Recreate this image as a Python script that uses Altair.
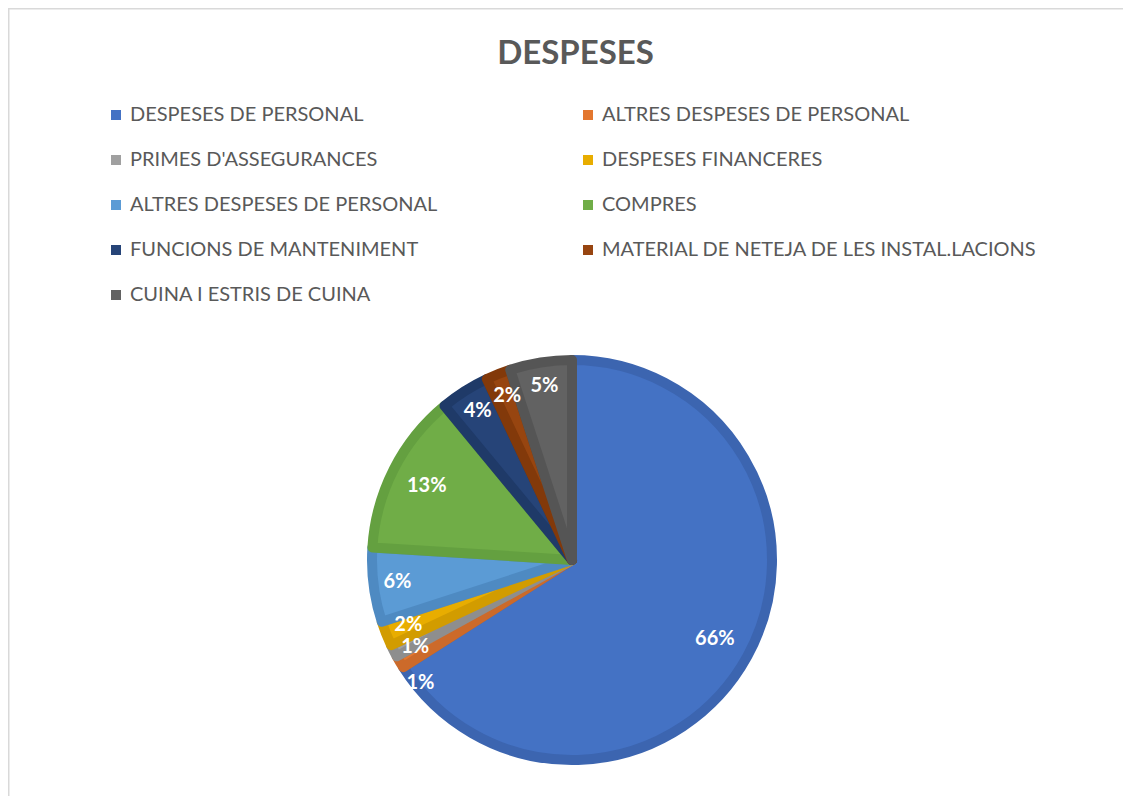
import json
import altair as alt
import pandas as pd

# ---- data ----
categories = [
    "DESPESES DE PERSONAL",
    "ALTRES DESPESES DE PERSONAL",
    "PRIMES D'ASSEGURANCES",
    "DESPESES FINANCERES",
    "ALTRES DESPESES DE PERSONAL",
    "COMPRES",
    "FUNCIONS DE MANTENIMENT",
    "MATERIAL DE NETEJA DE LES INSTAL.LACIONS",
    "CUINA I ESTRIS DE CUINA",
]
values = [66, 1, 1, 2, 6, 13, 4, 2, 5]

fill_colors = ["#4472C4", "#E3772F", "#A0A0A0", "#E8AD00", "#5B9BD5",
               "#70AD47", "#264478", "#974510", "#626262"]
stroke_colors = ["#3C65B0", "#CC6A2A", "#8E8E8E", "#D29C00", "#4E8AC2",
                 "#64A040", "#1F3A68", "#82390A", "#555555"]

n = len(categories)
keys = [str(i) for i in range(n)]
df = pd.DataFrame({"key": keys, "idx": list(range(n)), "value": values})

# legend is filled column by column: put even entries in column 1, odd in column 2
legend_order = list(range(0, n, 2)) + list(range(1, n, 2))
dom = [keys[i] for i in legend_order]
fill_rng = [fill_colors[i] for i in legend_order]
stroke_rng = [stroke_colors[i] for i in legend_order]

FONT = "Lato, 'Open Sans', sans-serif"
W, H = 1115, 788
CX, CY = 564, 552
R = 205
TOTAL = sum(values)

label_expr = json.dumps(categories) + "[toNumber(datum.value)]"
theta_scale = alt.Scale(domain=[0, TOTAL])

base = alt.Chart(df)

pie = base.mark_arc(outerRadius=R - 5, strokeWidth=10, strokeJoin="round").encode(
    theta=alt.Theta("value:Q", stack=True, scale=theta_scale),
    order=alt.Order("idx:Q"),
    x=alt.value(CX),
    y=alt.value(CY),
    color=alt.Color(
        "key:N",
        scale=alt.Scale(domain=dom, range=fill_rng),
        legend=alt.Legend(
            orient="none", legendX=98, legendY=97, columns=2, title=None,
            labelExpr=label_expr, symbolType="square", symbolSize=100,
            symbolStrokeWidth=0, labelFontSize=20, labelFont=FONT,
            labelColor="#595959", labelOffset=4, columnPadding=140,
            rowPadding=25, padding=0, labelLimit=0,
        ),
    ),
    stroke=alt.Stroke("key:N", scale=alt.Scale(domain=dom, range=stroke_rng), legend=None),
)

# labels: mid-angle of each slice; small slices a bit further out, and the
# tiny (1%) ones nudged downward so they do not collide
labels = base.transform_window(
    cum="sum(value)", sort=[alt.SortField("idx")], frame=[None, 0]
).transform_calculate(
    mid="datum.cum - datum.value / 2",
    lr="datum.value < 10 ? 176 : 163",
    off="datum.value <= 1 ? (datum.idx % 2 == 1 ? 33 : 7) : 0",
    txt="datum.value + '%'",
).mark_text(
    font=FONT, fontSize=20, fontWeight="bold", color="white",
    align="center", baseline="middle",
).encode(
    theta=alt.Theta("mid:Q", stack=None, scale=theta_scale),
    radius=alt.Radius("lr:Q", scale=None),
    x=alt.value(CX),
    y=alt.value(CY),
    yOffset=alt.YOffset("off:Q", scale=None),
    text="txt:N",
)

frame_df = pd.DataFrame({"a": [0]})
frame_left = alt.Chart(frame_df).mark_rule(color="#D9D9D9", strokeWidth=1.5).encode(
    x=alt.value(0.75), y=alt.value(0), y2=alt.value(H)
)
frame_top = alt.Chart(frame_df).mark_rule(color="#D9D9D9", strokeWidth=1.5).encode(
    y=alt.value(0.75), x=alt.value(0), x2=alt.value(W)
)

chart = alt.layer(frame_left, frame_top, pie, labels).properties(
    width=W,
    height=H,
    autosize=alt.AutoSizeParams(type="none"),
    padding=0,
    title=alt.TitleParams(
        "DESPESES", anchor="middle", frame="group", font=FONT, fontSize=33,
        fontWeight="bold", color="#595959", offset=0, baseline="alphabetic",
        dx=10, dy=90,
    ),
).configure_view(stroke=None)

chart.save("out.html", embed_options={"renderer": "svg", "actions": False})
